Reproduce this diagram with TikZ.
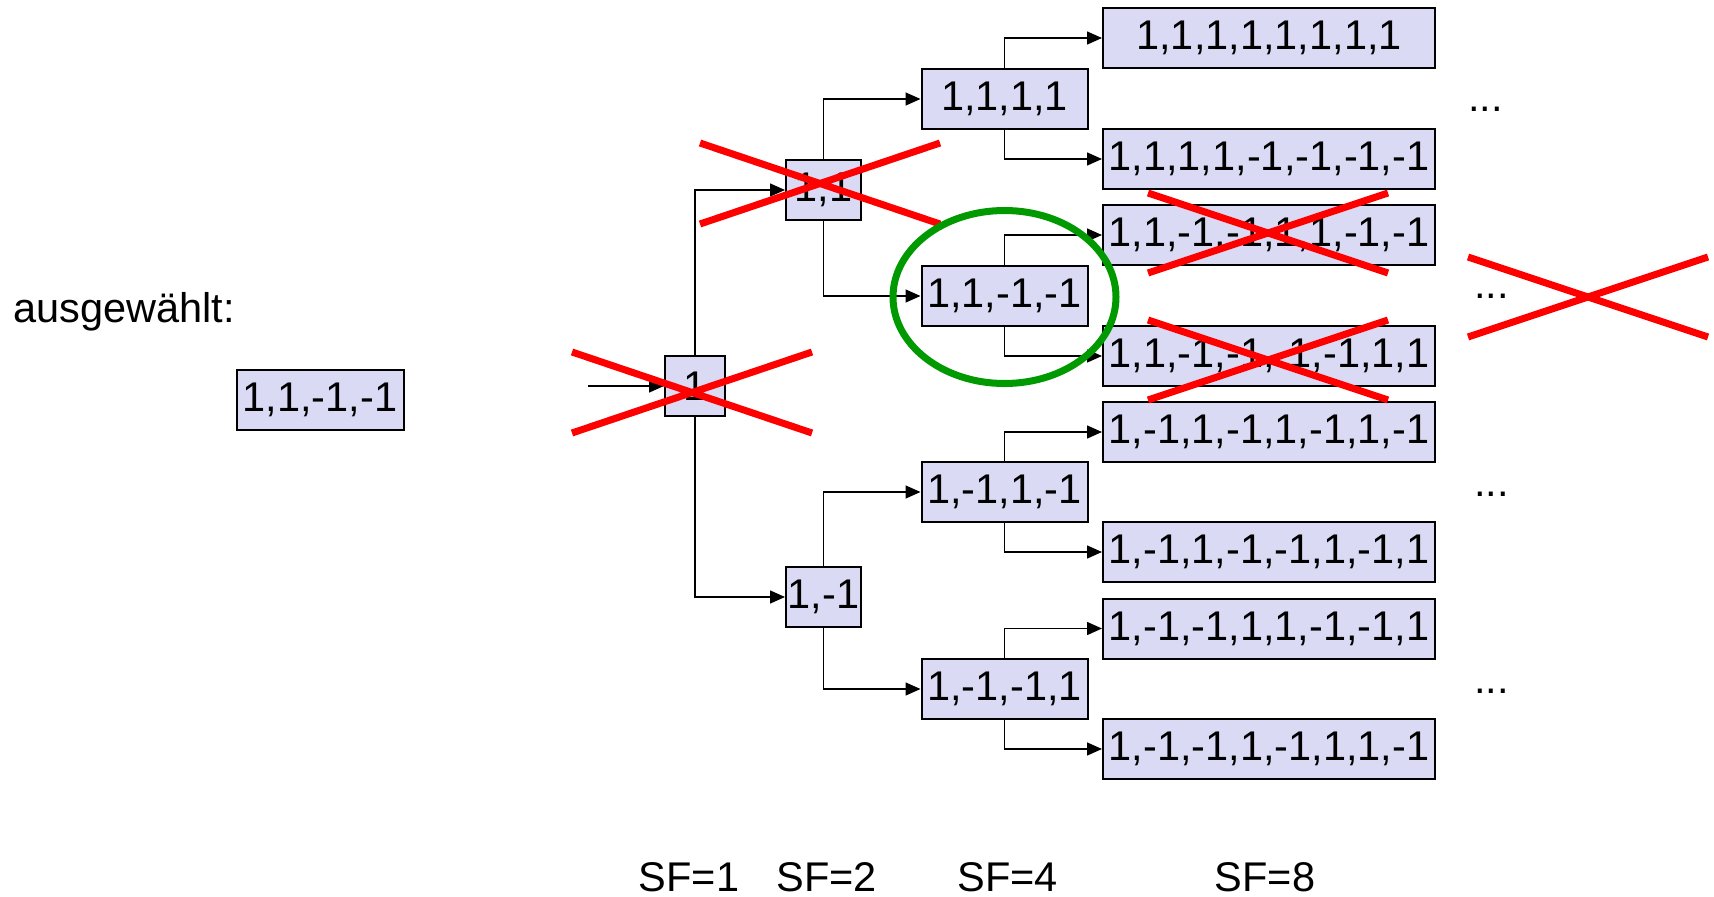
\documentclass[tikz,border=0pt]{standalone}
\usepackage{fontspec}
\setmainfont{Liberation Sans}
\usetikzlibrary{arrows.meta}
\definecolor{boxfill}{RGB}{218,218,244}
\definecolor{xred}{RGB}{255,0,0}
\definecolor{ringgreen}{RGB}{0,153,0}
\begin{document}
\begin{tikzpicture}[x=1pt,y=-1pt,
  box/.style={draw=black, line width=2pt, fill=boxfill, inner sep=0pt, minimum height=60pt, font=\fontsize{41.5}{49}\selectfont},
  conn/.style={line width=1.5pt, -{Triangle[length=15pt,width=13pt]}},
  cross/.style={draw=xred, line width=7pt},
  lbl/.style={font=\fontsize{41.5}{49}\selectfont, inner sep=0pt}]
\useasboundingbox (0,0) rectangle (1714,897);

% labels
\node[lbl, anchor=base west] (sel) at (13,322) {ausgewählt:};
\node[box, minimum width=167pt] (chosen) at (320,400) {1,1,-1,-1};

% SF=1
\node[box, minimum width=60pt] (n1) at (695,386) {1};
% SF=2
\node[box, minimum width=75pt] (n11) at (823.5,190) {1,1};
\node[box, minimum width=75pt] (n1m) at (823.5,597) {1,-1};
% SF=4
\node[box, minimum width=166pt] (a1) at (1004.5,99) {1,1,1,1};
\node[box, minimum width=166pt] (a2) at (1004.5,296) {1,1,-1,-1};
\node[box, minimum width=166pt] (a3) at (1004.5,492) {1,-1,1,-1};
\node[box, minimum width=166pt] (a4) at (1004.5,689) {1,-1,-1,1};
% SF=8
\node[box, minimum width=332pt] (b1) at (1269,38) {1,1,1,1,1,1,1,1};
\node[box, minimum width=332pt] (b2) at (1269,159) {1,1,1,1,-1,-1,-1,-1};
\node[box, minimum width=332pt] (b3) at (1269,235) {1,1,-1,-1,1,1,-1,-1};
\node[box, minimum width=332pt] (b4) at (1269,356) {1,1,-1,-1,-1,-1,1,1};
\node[box, minimum width=332pt] (b5) at (1269,432) {1,-1,1,-1,1,-1,1,-1};
\node[box, minimum width=332pt] (b6) at (1269,552) {1,-1,1,-1,-1,1,-1,1};
\node[box, minimum width=332pt] (b7) at (1269,628.5) {1,-1,-1,1,1,-1,-1,1};
\node[box, minimum width=332pt] (b8) at (1269,749) {1,-1,-1,1,-1,1,1,-1};

% dots
\node[lbl, anchor=base west] (d1) at (1468,111) {...};
\node[lbl, anchor=base west] (d2) at (1474,298) {...};
\node[lbl, anchor=base west] (d3) at (1474,496) {...};
\node[lbl, anchor=base west] (d4) at (1474,693) {...};

% SF labels
\node[lbl, anchor=base] (sf1) at (689,891) {SF=1};
\node[lbl, anchor=base] (sf2) at (826.5,891) {SF=2};
\node[lbl, anchor=base] (sf4) at (1007.5,891) {SF=4};
\node[lbl, anchor=base] (sf8) at (1265,891) {SF=8};

% connectors
\coordinate (in) at (588,386);
\draw[conn] (in) -- (n1.west);
\draw[conn] (n1.north) |- (n11.west);
\draw[conn] (n1.south) |- (n1m.west);
\draw[conn] (n11.north) |- (a1.west);
\draw[conn] (n11.south) |- (a2.west);
\draw[conn] (n1m.north) |- (a3.west);
\draw[conn] (n1m.south) |- (a4.west);
\draw[conn] (a1.north) |- (b1.west);
\draw[conn] (a1.south) |- (b2.west);
\draw[conn] (a2.north) |- (b3.west);
\draw[conn] (a2.south) |- (b4.west);
\draw[conn] (a3.north) |- (b5.west);
\draw[conn] (a3.south) |- (b6.west);
\draw[conn] (a4.north) |- (b7.west);
\draw[conn] (a4.south) |- (b8.west);

% red crosses
\draw[cross] (572,352) -- (812,433) (572,433) -- (812,352);
\draw[cross] (700,143) -- (940,224) (700,224) -- (940,143);
\draw[cross] (1148,193) -- (1388,273) (1148,273) -- (1388,193);
\draw[cross] (1148,320) -- (1388,400) (1148,400) -- (1388,320);
\draw[cross] (1468,257) -- (1708,337) (1468,337) -- (1708,257);

% green ring
\draw[draw=ringgreen, line width=7pt] (1004.5,297) ellipse [x radius=111.5pt, y radius=86.5pt];
\end{tikzpicture}
\end{document}
